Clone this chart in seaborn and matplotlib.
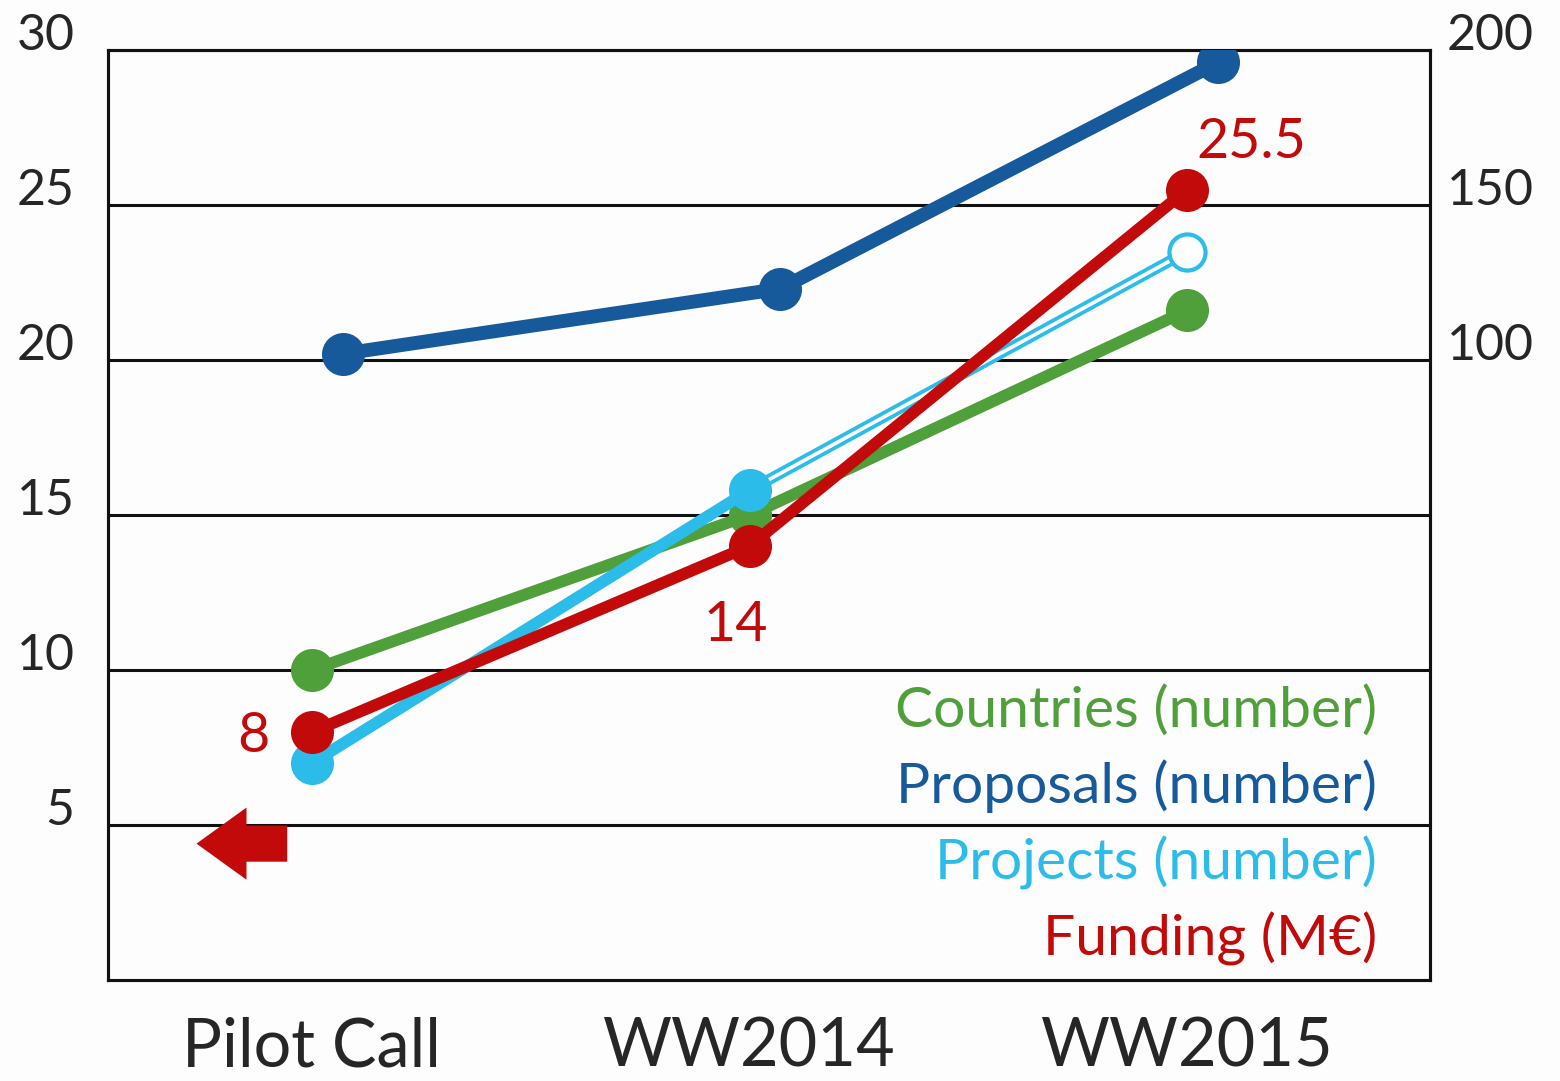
import seaborn as sns
import matplotlib.pyplot as plt
import pandas as pd

# chart values
stages = ["Pilot Call", "WW2014", "WW2015"]
countries = [10, 15, 21.6]        # left axis
projects = [7, 15.8, 23.5]        # left axis, last point is an estimate
funding = [8, 14, 25.5]           # left axis, M€
proposals = [102, 123, 196]       # right axis
funding_labels = ["8", "14", "25.5"]
legend_names = ["Countries (number)", "Proposals (number)", "Projects (number)", "Funding (M\u20ac)"]

green = "#4f9f3a"
navy = "#175a9b"
cyan = "#2cbce9"
red = "#c30a0a"

sns.set_style("white")
plt.rcParams["font.family"] = ["Lato", "DejaVu Sans"]

fig = plt.figure(figsize=(15.6, 10.81), dpi=100, facecolor="#fdfdfd")
ax = fig.add_axes([0.0692, 0.0934, 0.8475, 0.8603])
ax.set_facecolor("#fdfdfd")
ax2 = ax.twinx()

x = list(range(len(stages)))
df = pd.DataFrame({"x": x, "countries": countries, "projects": projects,
                   "funding": funding, "proposals": proposals})
dodge = 0.07
ms = 31

# proposals on the right axis
sns.lineplot(x=df["x"] + dodge, y=df["proposals"], ax=ax2, color=navy, lw=10,
             marker="o", markersize=ms, markeredgewidth=0, zorder=3)

sns.lineplot(data=df, x="x", y="countries", ax=ax, color=green, lw=8.5,
             marker="o", markersize=ms, markeredgewidth=0, zorder=3)

# projects: solid to WW2014, hollow double line to estimated WW2015
sns.lineplot(data=df.iloc[:2], x="x", y="projects", ax=ax, color=cyan, lw=8.5,
             marker="o", markersize=ms, markeredgewidth=0, zorder=4)
sns.lineplot(data=df.iloc[1:], x="x", y="projects", ax=ax, color=cyan, lw=8,
             zorder=3.9)
sns.lineplot(data=df.iloc[1:], x="x", y="projects", ax=ax, color="white", lw=2.6,
             zorder=3.95)
ax.plot(df["x"].iloc[2], df["projects"].iloc[2], "o", ms=26, mfc="white",
        mec=cyan, mew=3, zorder=4)

sns.lineplot(data=df, x="x", y="funding", ax=ax, color=red, lw=8.5,
             marker="o", markersize=ms, markeredgewidth=0, zorder=5)

# funding value labels
offsets = [(-42, -3), (-10, -57), (46, 34)]
for xi, yi, lab, off in zip(x, funding, funding_labels, offsets):
    ax.annotate(lab, (xi, yi), xytext=off, textcoords="offset points",
                ha="center", va="center", color=red, fontsize=40, zorder=6)

for a in (ax, ax2):
    a.set_xlim(-0.466, 2.555)
    a.set_xlabel("")
    a.set_ylabel("")
    a.tick_params(length=0)
    for s in a.spines.values():
        s.set_color("#111111")
        s.set_linewidth(2.2)

ax.set_ylim(0, 30)
ax2.set_ylim(-100, 200)
ax.set_yticks([5, 10, 15, 20, 25, 30])
ax.set_yticklabels(["5", "10", "15", "20", "25", "30"], fontsize=36)
ax2.set_yticks([100, 150, 200])
ax2.set_yticklabels(["100", "150", "200"], fontsize=36)
ax.tick_params(axis="y", pad=24)
ax2.tick_params(axis="y", pad=12)
for t in ax.get_yticklabels() + ax2.get_yticklabels():
    t.set_va("baseline")
ax.set_xticks(x)
ax.set_xticklabels(stages, fontsize=48)
ax.tick_params(axis="x", pad=26)
ax.yaxis.grid(True, color="#111111", lw=2.2)
ax.set_axisbelow(True)
ax2.grid(False)

# legend as coloured text
for i, (name, col) in enumerate(zip(legend_names, [green, navy, cyan, red])):
    ax.text(0.96, 0.29 - i * 0.082, name, transform=ax.transAxes, ha="right",
            va="center", color=col, fontsize=41)

# red arrow pointing to the left axis
ax.annotate("", xy=(-0.27, 4.4), xytext=(-0.05, 4.4),
            arrowprops=dict(arrowstyle="simple,head_length=0.9,head_width=1.3,tail_width=0.65",
                            color=red, mutation_scale=40, lw=0))

fig.savefig("out.png", dpi=100, facecolor=fig.get_facecolor())
